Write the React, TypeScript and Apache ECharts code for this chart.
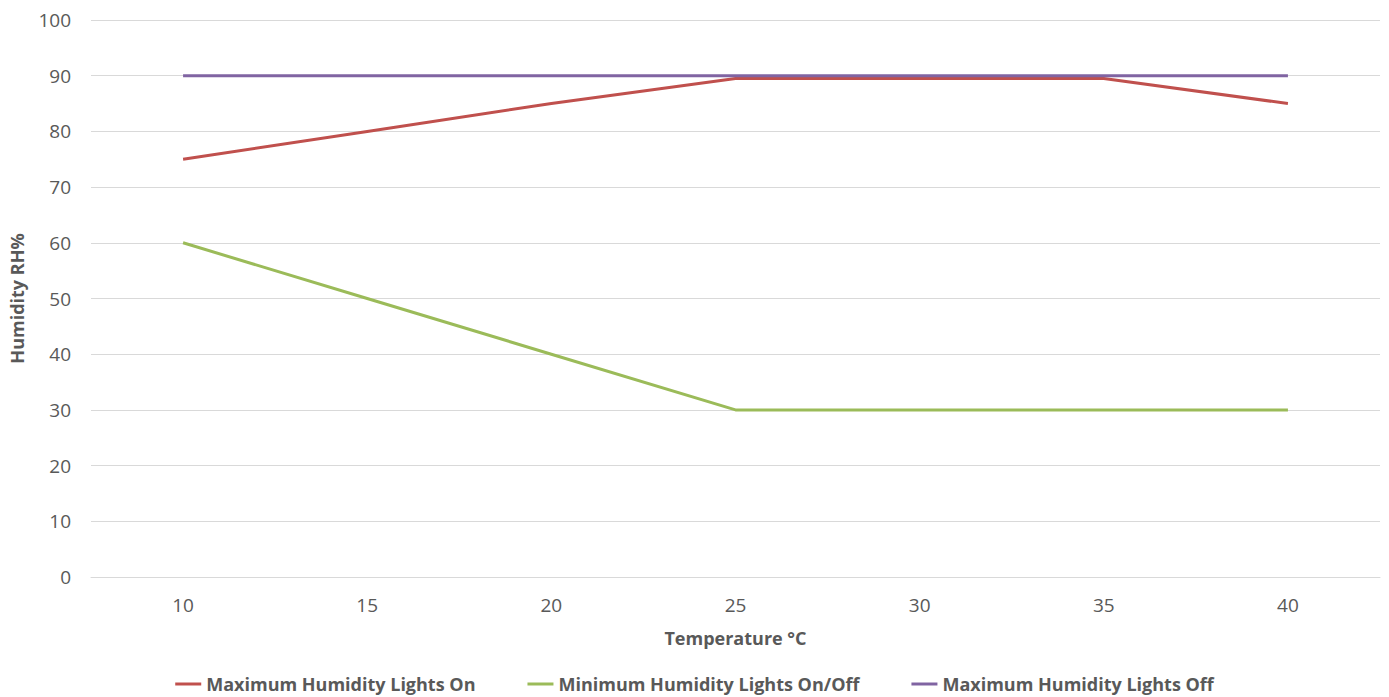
import React, { useEffect, useRef } from "react";
import * as echarts from "echarts";

const categories = ["10", "15", "20", "25", "30", "35", "40"];
const maxLightsOn = [75, 80, 85, 89.5, 89.5, 89.5, 85];
const minLightsOnOff = [60, 50, 40, 30, 30, 30, 30];
const maxLightsOff = [90, 90, 90, 90, 90, 90, 90];
const seriesNames = [
  "Maximum Humidity Lights On",
  "Minimum Humidity Lights On/Off",
  "Maximum Humidity Lights Off",
];
const colors = ["#C0504D", "#9BBB59", "#8064A2"];

const FONT = "'Open Sans', 'Liberation Sans', sans-serif";

export default function App() {
  const ref = useRef<HTMLDivElement>(null);
  useEffect(() => {
    if (!ref.current) return;
    const chart = echarts.init(ref.current, null, { renderer: "svg" });
    const mk = (name: string, data: number[], color: string) => ({
      name,
      type: "line",
      data,
      symbol: "none",
      lineStyle: { color, width: 3 },
      itemStyle: { color },
    });
    chart.setOption({
      animation: false,
      textStyle: { fontFamily: FONT },
      grid: {
        left: 91,
        right: 9,
        top: 20,
        bottom: 120,
        containLabel: false,
        outerBoundsMode: "none",
      },
      legend: {
        top: 670,
        left: "center",
        icon: "rect",
        itemWidth: 26,
        itemHeight: 3,
        itemGap: 52,
        textStyle: {
          fontFamily: FONT,
          fontSize: 18,
          fontWeight: "bold",
          color: "#595959",
        },
        data: seriesNames,
      },
      xAxis: {
        type: "category",
        data: categories,
        boundaryGap: true,
        name: "Temperature °C",
        nameLocation: "middle",
        nameGap: 52,
        nameTextStyle: {
          fontFamily: FONT,
          fontSize: 18,
          fontWeight: "bold",
          color: "#595959",
        },
        axisLine: { show: true, lineStyle: { color: "#D9D9D9" } },
        axisTick: { show: false },
        axisLabel: { fontSize: 19, color: "#595959", margin: 18, fontFamily: FONT },
      },
      yAxis: {
        type: "value",
        min: 0,
        max: 100,
        interval: 10,
        name: "Humidity RH%",
        nameLocation: "middle",
        nameGap: 65,
        nameRotate: 90,
        nameTextStyle: {
          fontFamily: FONT,
          fontSize: 18,
          fontWeight: "bold",
          color: "#595959",
        },
        axisLine: { show: false },
        axisTick: { show: false },
        axisLabel: { fontSize: 19, color: "#595959", margin: 20, fontFamily: FONT },
        splitLine: { lineStyle: { color: "#D9D9D9", width: 1 } },
      },
      series: [
        mk(seriesNames[0], maxLightsOn, colors[0]),
        mk(seriesNames[1], minLightsOnOff, colors[1]),
        mk(seriesNames[2], maxLightsOff, colors[2]),
      ],
    });
    return () => chart.dispose();
  }, []);
  return (
    <div
      ref={ref}
      style={{ position: "absolute", left: 0, top: 0, width: 1389, height: 697 }}
    />
  );
}
